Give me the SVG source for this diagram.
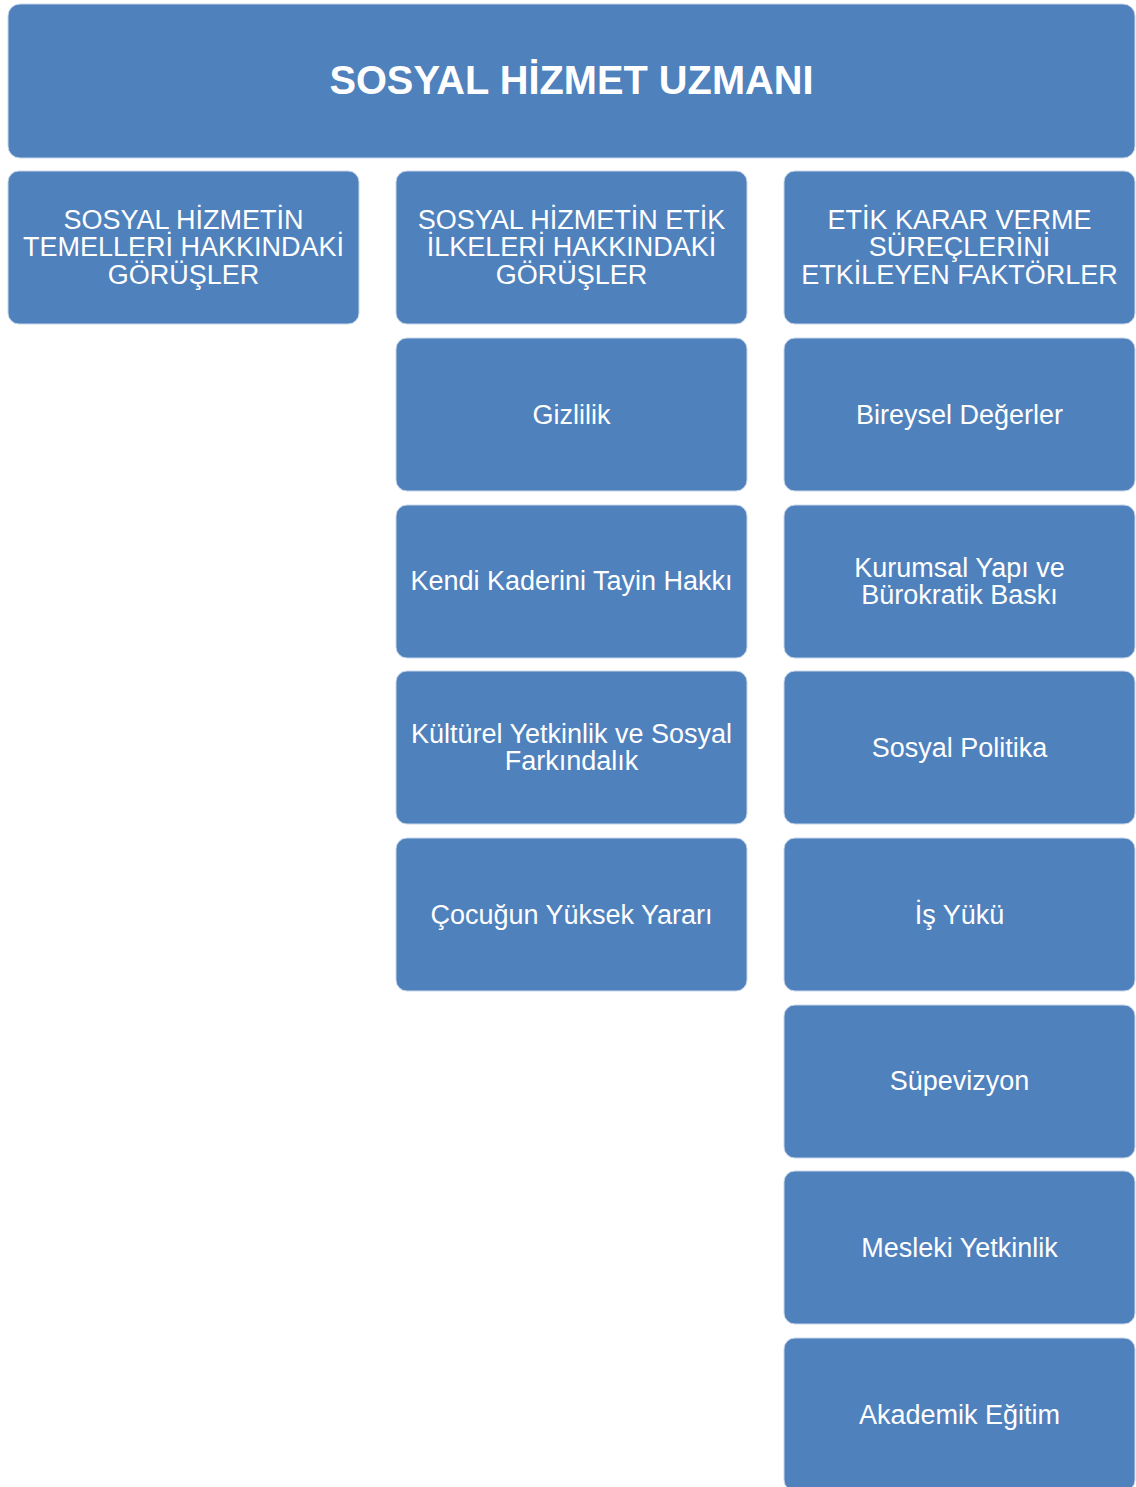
<svg xmlns="http://www.w3.org/2000/svg" width="1136" height="1487" viewBox="0 0 1136 1487">
<style>
.box{fill:#4F81BD;stroke:#c9d6ea;stroke-width:1}
.t{fill:#fff;font-family:"Liberation Sans",Arial,sans-serif;font-size:27px;text-anchor:middle}
.title{fill:#fff;font-family:"Liberation Sans",Arial,sans-serif;font-size:39.8px;font-weight:bold;text-anchor:middle}
</style>
<rect width="1136" height="1487" fill="#fff"/>
<g id="root"><rect class="box" x="8" y="4" width="1127" height="154" rx="12"/><text class="title" x="571.5" y="94">SOSYAL HİZMET UZMANI</text></g>
<g id="c1h"><rect class="box" x="8" y="171" width="351" height="153" rx="11"/><text class="t" x="183.5" y="228.5">SOSYAL HİZMETİN</text><text class="t" x="183.5" y="256">TEMELLERİ HAKKINDAKİ</text><text class="t" x="183.5" y="283.5">GÖRÜŞLER</text></g>
<g id="c2h"><rect class="box" x="396" y="171" width="351" height="153" rx="11"/><text class="t" x="571.5" y="228.5">SOSYAL HİZMETİN ETİK</text><text class="t" x="571.5" y="256">İLKELERİ HAKKINDAKİ</text><text class="t" x="571.5" y="283.5">GÖRÜŞLER</text></g>
<g id="c3h"><rect class="box" x="784" y="171" width="351" height="153" rx="11"/><text class="t" x="959.5" y="228.5">ETİK KARAR VERME</text><text class="t" x="959.5" y="256">SÜREÇLERİNİ</text><text class="t" x="959.5" y="283.5">ETKİLEYEN FAKTÖRLER</text></g>
<g id="c2n1"><rect class="box" x="396" y="338" width="351" height="153" rx="11"/><text class="t" x="571.5" y="423.5">Gizlilik</text></g>
<g id="c2n2"><rect class="box" x="396" y="505" width="351" height="153" rx="11"/><text class="t" x="571.5" y="589.5">Kendi Kaderini Tayin Hakkı</text></g>
<g id="c2n3"><rect class="box" x="396" y="671" width="351" height="153" rx="11"/><text class="t" x="571.5" y="742.5">Kültürel Yetkinlik ve Sosyal</text><text class="t" x="571.5" y="770">Farkındalık</text></g>
<g id="c2n4"><rect class="box" x="396" y="838" width="351" height="153" rx="11"/><text class="t" x="571.5" y="923.5">Çocuğun Yüksek Yararı</text></g>
<g id="c3n1"><rect class="box" x="784" y="338" width="351" height="153" rx="11"/><text class="t" x="959.5" y="423.5">Bireysel Değerler</text></g>
<g id="c3n2"><rect class="box" x="784" y="505" width="351" height="153" rx="11"/><text class="t" x="959.5" y="576.5">Kurumsal Yapı ve</text><text class="t" x="959.5" y="604">Bürokratik Baskı</text></g>
<g id="c3n3"><rect class="box" x="784" y="671" width="351" height="153" rx="11"/><text class="t" x="959.5" y="756.5">Sosyal Politika</text></g>
<g id="c3n4"><rect class="box" x="784" y="838" width="351" height="153" rx="11"/><text class="t" x="959.5" y="923.5">İş Yükü</text></g>
<g id="c3n5"><rect class="box" x="784" y="1005" width="351" height="153" rx="11"/><text class="t" x="959.5" y="1090">Süpevizyon</text></g>
<g id="c3n6"><rect class="box" x="784" y="1171" width="351" height="153" rx="11"/><text class="t" x="959.5" y="1256.5">Mesleki Yetkinlik</text></g>
<g id="c3n7"><rect class="box" x="784" y="1338" width="351" height="153" rx="11"/><text class="t" x="959.5" y="1423.5">Akademik Eğitim</text></g>
</svg>
